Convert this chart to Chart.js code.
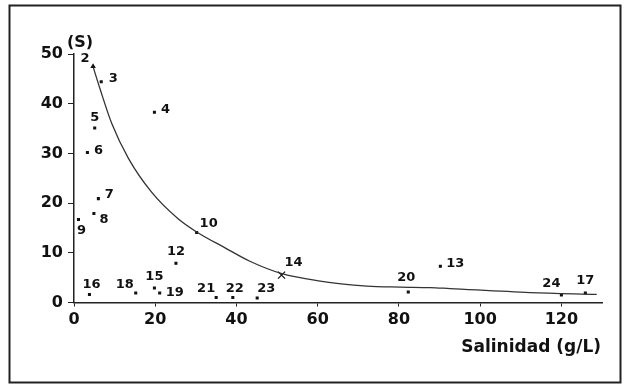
<!DOCTYPE html>
<html>
<head>
<meta charset="utf-8">
<script src="https://cdn.jsdelivr.net/npm/chart.js@4/dist/chart.umd.min.js"></script>
<style>
  html, body { margin: 0; padding: 0; background: #fff; }
  #wrap { width: 627px; height: 387px; }
</style>
</head>
<body>
<div id="wrap"><canvas id="salChart" width="627" height="387"></canvas></div>
<script>
// Data
const stationNames = ['2', '3', '4', '5', '6', '7', '8', '9', '10', '12', '13', '14',
  '15', '16', '17', '18', '19', '20', '21', '22', '23', '24'];
const salinity = [4.7, 6.7, 19.8, 5.1, 3.3, 6.0, 4.9, 1.1, 30.2, 25.1, 90.2, 51.1,
  19.8, 3.8, 125.9, 15.2, 21.1, 82.3, 35.0, 39.1, 45.1, 120.0];
const species = [47.5, 44.4, 38.3, 35.1, 30.2, 20.9, 17.9, 16.7, 14.1, 7.9, 7.3, 5.5,
  2.9, 1.6, 1.9, 1.9, 1.9, 2.1, 1.0, 1.0, 0.9, 1.5];

// fitted curve
const curveX = [4.75, 6.4, 9.3, 13.4, 19.1, 25.7, 30.2, 37.2, 43.3, 51.2, 59.8, 72.1, 80.3, 87.7, 92.6, 112.3, 128.7];
const curveY = [47.3, 43.0, 36.0, 29.0, 22.2, 16.8, 14.2, 11.0, 8.3, 5.8, 4.4, 3.3, 3.1, 3.0, 2.8, 2.0, 1.65];

const xTickValues = [0, 20, 40, 60, 80, 100, 120];

// where each number sits relative to its dot (px)
const labelOffset = {
  '2': [-8, -8], '3': [12, -3], '4': [11, -3], '5': [0, -10], '6': [11, -2],
  '7': [11, -4], '8': [10, 6], '9': [3, 11], '10': [12, -9], '12': [0, -12],
  '13': [15, -3], '14': [12, -13], '15': [0, -11], '16': [2, -10], '17': [0, -12],
  '18': [-11, -8], '19': [15, 0], '20': [-2, -14], '21': [-10, -9], '22': [2, -9],
  '23': [9, -9], '24': [-10, -11]
};

const FONT = "'DejaVu Sans', sans-serif";

const pointData = salinity.map((x, i) => ({ x: x, y: species[i] }));
const curveData = curveX.map((x, i) => ({ x: x, y: curveY[i] }));

const pointStyles = stationNames.map(n => n === '14' ? 'crossRot' : (n === '2' ? 'triangle' : 'rect'));
const pointRadii = stationNames.map(n => n === '14' ? 5 : (n === '2' ? 2 : 1.3));

// Frame, axis captions and station numbers
const extrasPlugin = {
  id: 'extras',
  afterDraw(chart) {
    const ctx = chart.ctx;
    const xs = chart.scales.x;
    const ys = chart.scales.y;
    ctx.save();

    ctx.strokeStyle = '#222';
    ctx.lineWidth = 2;
    ctx.strokeRect(9.5, 5.5, 611, 377);

    ctx.fillStyle = '#111';
    ctx.textAlign = 'center';
    ctx.textBaseline = 'middle';
    ctx.font = 'bold 16px ' + FONT;
    ctx.fillText('(S)', 80, 43);

    ctx.textAlign = 'right';
    ctx.font = 'bold 17px ' + FONT;
    ctx.fillText('Salinidad (g/L)', 601, 348);

    ctx.textAlign = 'center';
    ctx.font = 'bold 13px ' + FONT;
    stationNames.forEach((name, i) => {
      const px = xs.getPixelForValue(salinity[i]);
      const py = ys.getPixelForValue(species[i]);
      const off = labelOffset[name] || [10, -8];
      ctx.fillText(name, px + off[0], py + off[1]);
    });
    ctx.restore();
  }
};

const ctx = document.getElementById('salChart').getContext('2d');
const salChart = new Chart(ctx, {
  type: 'scatter',
  data: {
    datasets: [
      {
        label: 'curve',
        data: curveData,
        showLine: true,
        borderColor: '#333',
        borderWidth: 1.3,
        pointRadius: 0,
        cubicInterpolationMode: 'monotone',
        fill: false
      },
      {
        label: 'stations',
        data: pointData,
        pointStyle: pointStyles,
        pointRadius: pointRadii,
        backgroundColor: '#111',
        borderColor: '#111',
        borderWidth: 1.2
      }
    ]
  },
  options: {
    responsive: false,
    animation: false,
    events: [],
    layout: { padding: { left: 20, top: 54, right: 25, bottom: 54.5 } },
    plugins: {
      legend: { display: false },
      tooltip: { enabled: false }
    },
    scales: {
      x: {
        type: 'linear',
        min: 0,
        max: 130,
        afterFit(scale) { scale.height = 30; },
        afterBuildTicks(scale) {
          scale.ticks = xTickValues.map(v => ({ value: v }));
        },
        border: { display: true, color: '#222', width: 1.5 },
        grid: { drawOnChartArea: false, drawTicks: true, tickLength: 4, color: '#222' },
        ticks: {
          includeBounds: false,
          stepSize: 20,
          maxRotation: 0,
          color: '#111',
          padding: 4,
          font: { family: FONT, size: 16, weight: 'bold' }
        }
      },
      y: {
        type: 'linear',
        min: 0,
        max: 50,
        afterFit(scale) { scale.width = 54; },
        border: { display: true, color: '#222', width: 1.5 },
        grid: { drawOnChartArea: false, drawTicks: true, tickLength: 6, color: '#222' },
        ticks: {
          stepSize: 10,
          color: '#111',
          padding: 5,
          font: { family: FONT, size: 16, weight: 'bold' }
        }
      }
    }
  },
  plugins: [extrasPlugin]
});
</script>
</body>
</html>
